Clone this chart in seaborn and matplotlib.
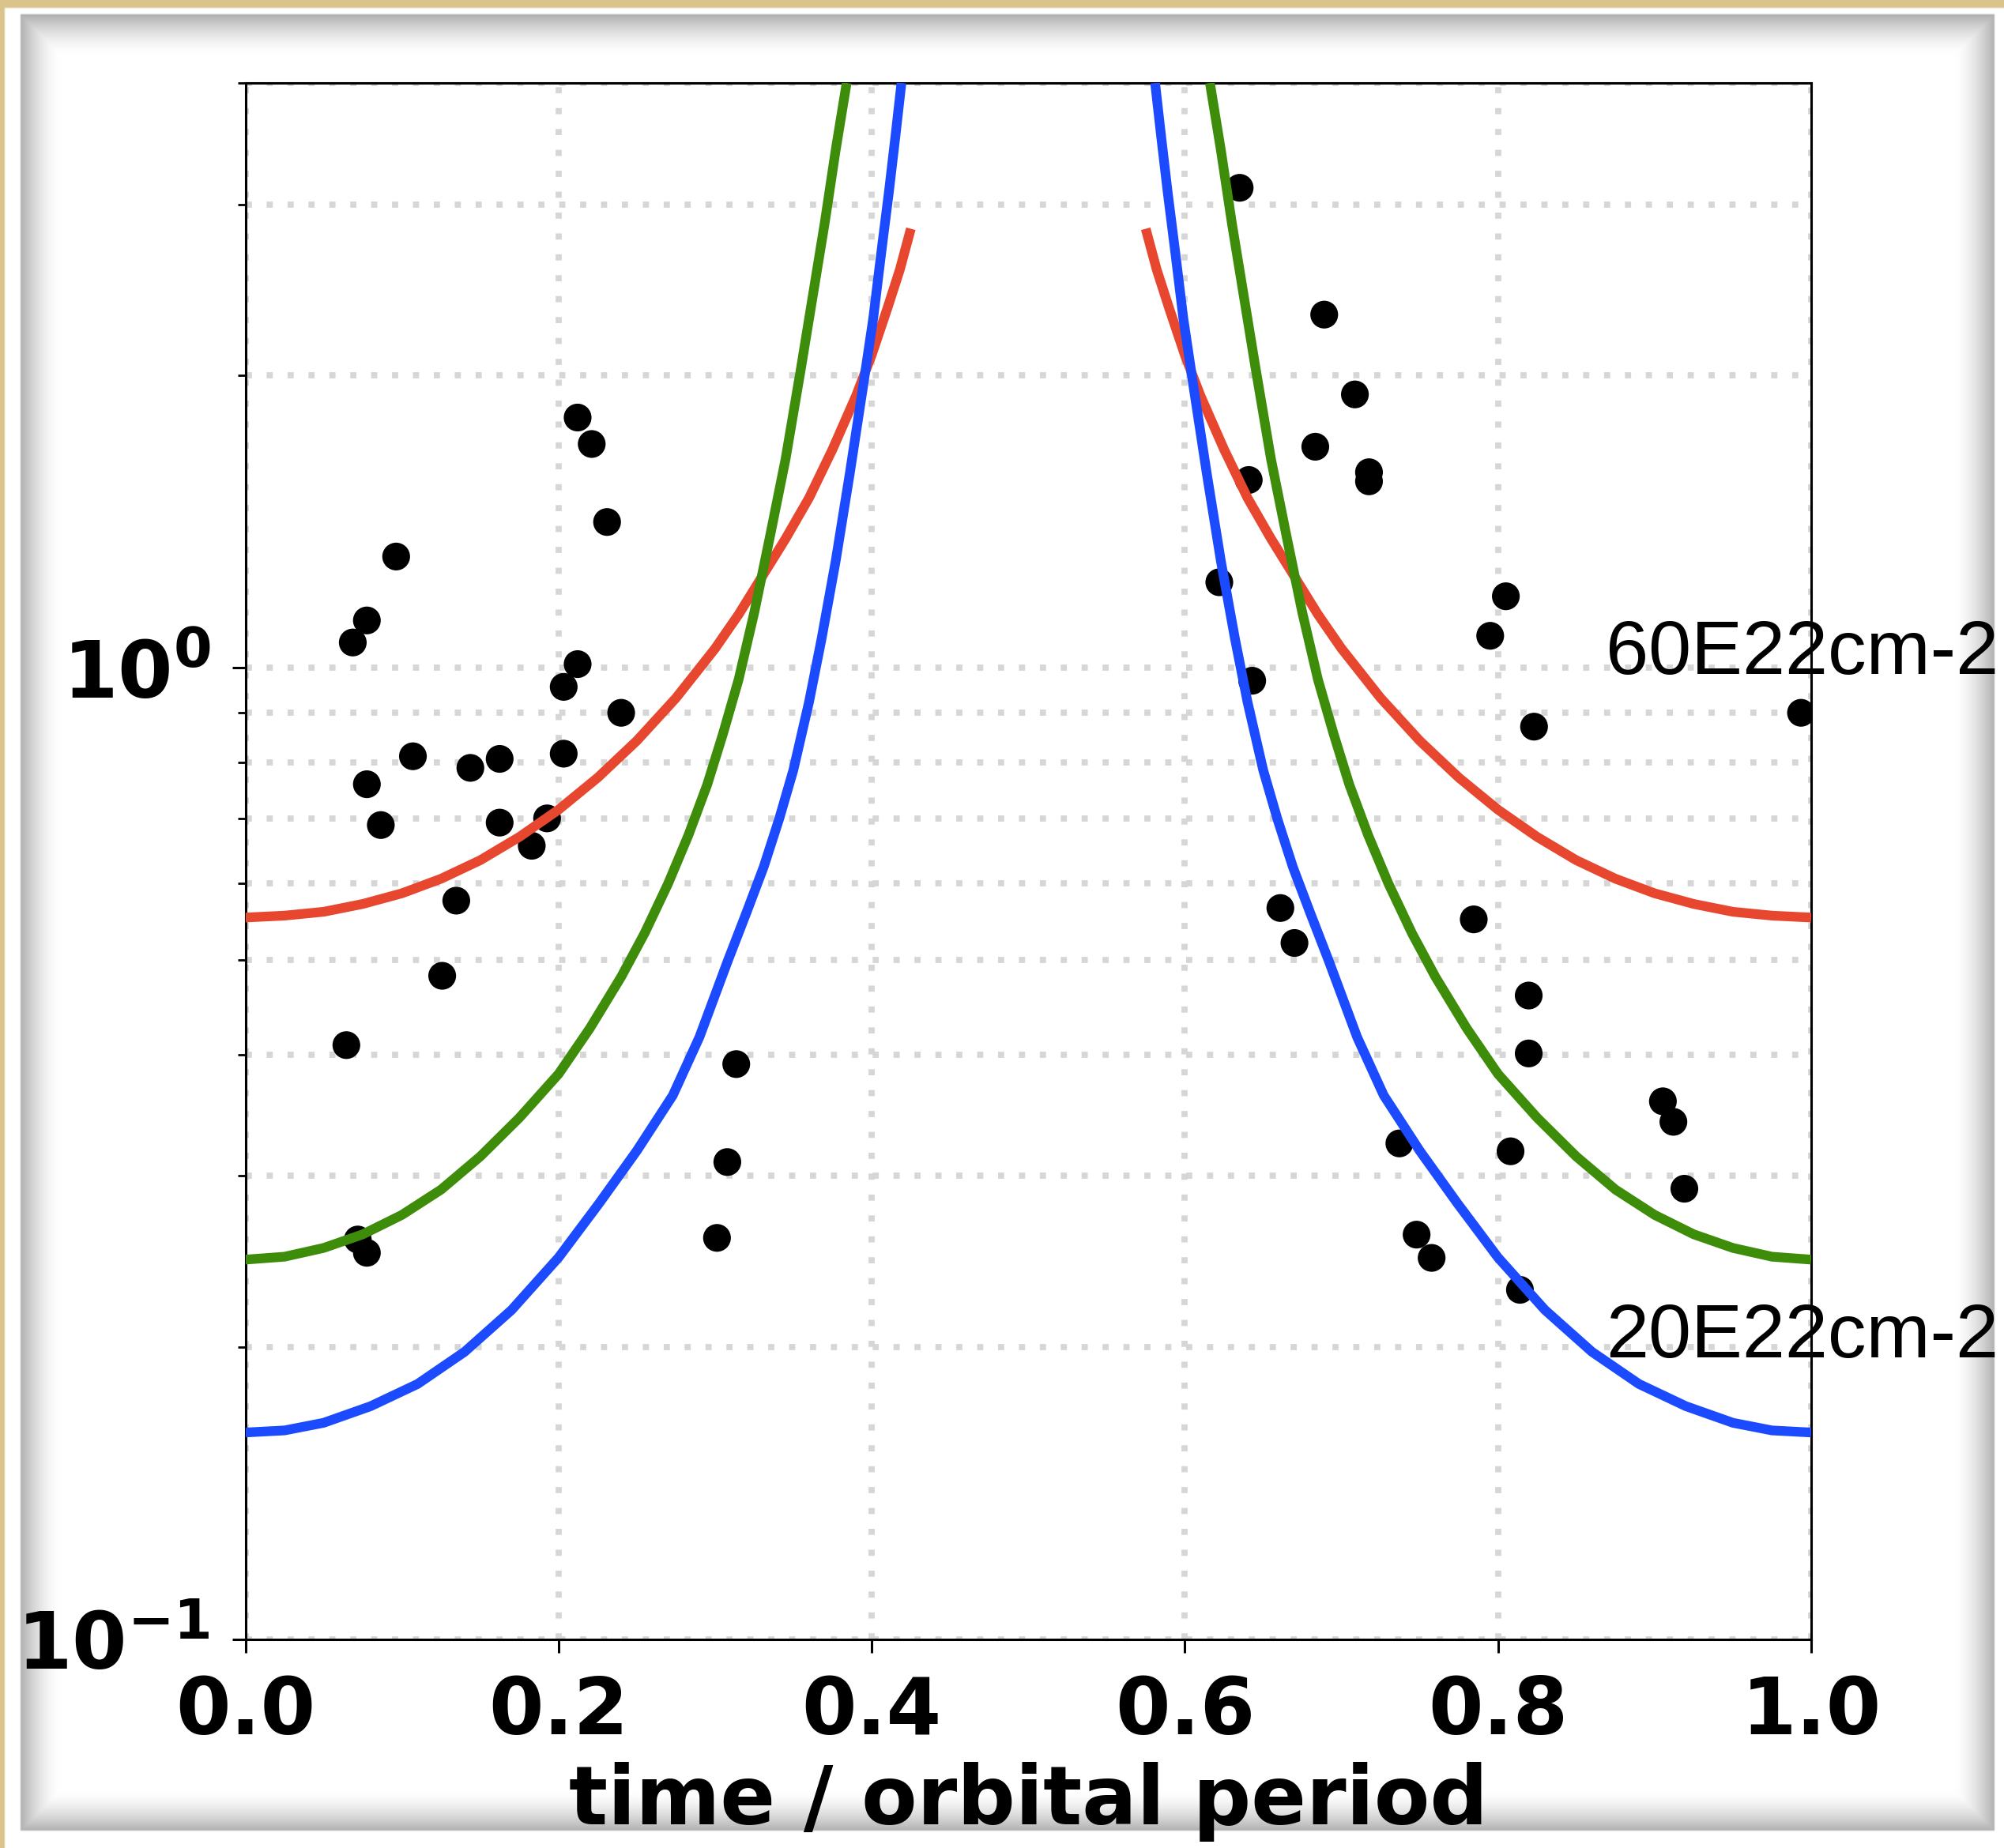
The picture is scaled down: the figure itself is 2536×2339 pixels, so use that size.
import matplotlib
matplotlib.use("Agg")
import matplotlib.pyplot as plt
import matplotlib.ticker as mticker
import numpy as np
import seaborn as sns

# Model curves; right halves mirror the left halves
red_left_x = [0.0, 0.025, 0.05, 0.075, 0.1, 0.125, 0.15, 0.175, 0.2, 0.225, 0.25, 0.275,
              0.3, 0.315, 0.33, 0.345, 0.36, 0.375, 0.39, 0.4, 0.41, 0.418, 0.425]
red_left_y = [0.5534, 0.5559, 0.5610, 0.5715, 0.5861, 0.6067, 0.6339, 0.6699, 0.7145,
              0.7709, 0.8414, 0.9311, 1.0471, 1.1350, 1.2417, 1.3583, 1.4962, 1.6788,
              1.9055, 2.0989, 2.3442, 2.5704, 2.8314]
red_right_x = [0.575, 0.582, 0.59, 0.6, 0.61, 0.625, 0.64, 0.655, 0.67, 0.685, 0.7, 0.725,
               0.75, 0.775, 0.8, 0.825, 0.85, 0.875, 0.9, 0.925, 0.95, 0.975, 1.0]
red_right_y = red_left_y[::-1]

green_left_x = [0.0, 0.025, 0.05, 0.075, 0.1, 0.125, 0.15, 0.175, 0.2, 0.22, 0.24, 0.255,
                0.27, 0.283, 0.295, 0.305, 0.315, 0.325, 0.335, 0.345, 0.355, 0.363, 0.37,
                0.377, 0.384]
green_left_y = [0.2460, 0.2477, 0.2529, 0.2612, 0.2735, 0.2904, 0.3141, 0.3443, 0.3819,
                0.4256, 0.4808, 0.5333, 0.5998, 0.6730, 0.7586, 0.8551, 0.9727, 1.1402,
                1.3646, 1.6406, 2.0417, 2.4491, 2.8708, 3.4119, 4.0]
green_right_x = [0.616, 0.623, 0.63, 0.637, 0.645, 0.655, 0.665, 0.675, 0.685, 0.695, 0.705,
                 0.717, 0.73, 0.745, 0.76, 0.78, 0.8, 0.825, 0.85, 0.875, 0.9, 0.925, 0.95,
                 0.975, 1.0]
green_right_y = green_left_y[::-1]

blue_left_x = [0.0, 0.025, 0.05, 0.08, 0.11, 0.14, 0.17, 0.2, 0.226, 0.25, 0.273, 0.29,
               0.308, 0.32, 0.331, 0.341, 0.35, 0.36, 0.368, 0.377, 0.386, 0.395, 0.401,
               0.406, 0.411, 0.415, 0.419]
blue_left_y = [0.1633, 0.1641, 0.1671, 0.1738, 0.1832, 0.1977, 0.2183, 0.2472, 0.2812,
               0.3184, 0.3631, 0.4169, 0.4989, 0.5598, 0.6237, 0.6998, 0.7852, 0.9226,
               1.0715, 1.2882, 1.5849, 1.9724, 2.2909, 2.6669, 3.0903, 3.5075, 4.0]
blue_right_x = [0.581, 0.585, 0.589, 0.594, 0.599, 0.605, 0.614, 0.623, 0.632, 0.64, 0.65,
                0.659, 0.669, 0.68, 0.692, 0.71, 0.727, 0.75, 0.774, 0.8, 0.83, 0.86, 0.89,
                0.92, 0.95, 0.975, 1.0]
blue_right_y = blue_left_y[::-1]

# Observed points
obs_x = [0.0645, 0.0686, 0.0776, 0.0776, 0.0865, 0.0963, 0.107, 0.0718, 0.0776, 0.1257,
         0.1347, 0.1437, 0.1624, 0.1624, 0.1829, 0.1927, 0.2033, 0.2033, 0.2122, 0.2122,
         0.2212, 0.231, 0.24, 0.3012, 0.3078, 0.3135,
         0.635, 0.689, 0.7086, 0.6833, 0.7176, 0.7176, 0.6408, 0.622, 0.643, 0.805,
         0.795, 0.823, 0.9935, 0.661, 0.670, 0.7845, 0.8196, 0.8196, 0.737, 0.748,
         0.7576, 0.808, 0.814, 0.9053, 0.912, 0.919]
obs_y = [0.409, 1.062, 1.119, 0.759, 0.689, 1.302, 0.811, 0.258, 0.250, 0.482,
         0.576, 0.789, 0.806, 0.693, 0.656, 0.700, 0.816, 0.956, 1.009, 1.810,
         1.700, 1.413, 0.899, 0.259, 0.310, 0.391,
         3.12, 2.31, 1.912, 1.689, 1.59, 1.556, 1.561, 1.225, 0.970, 1.185,
         1.079, 0.870, 0.899, 0.566, 0.521, 0.551, 0.460, 0.401, 0.324, 0.261,
         0.247, 0.318, 0.229, 0.358, 0.341, 0.291]

labels = ["60E22cm-2", "20E22cm-2"]
label_x = [0.869, 0.869]
label_y = [0.985, 0.195]

x_ticks = [0.0, 0.2, 0.4, 0.6, 0.8, 1.0]
y_ticks = [0.1, 1.0]
y_ticklabels = [r"$\mathbf{10^{-1}}$", r"$\mathbf{10^{0}}$"]

RED, GREEN, BLUE = "#e8472f", "#3d8c0a", "#1c4bff"

sns.set_style("ticks")
plt.rcParams["font.family"] = ["DejaVu Sans"]
plt.rcParams["text.color"] = "black"
plt.rcParams["axes.labelcolor"] = "black"
plt.rcParams["xtick.color"] = "black"
plt.rcParams["ytick.color"] = "black"

W, H, DPI = 2536, 2339, 200
fig = plt.figure(figsize=(W / DPI, H / DPI), dpi=DPI)

# Decorative frame: tan strip, white paper with soft inner shadow
step = 2
yy, xx = np.mgrid[0:H:step, 0:W:step].astype(np.float32)
img = np.ones(yy.shape + (3,), dtype=np.float32)
px0, py0, px1, py1 = 25, 18, 2523, 2317
inside = (xx >= px0) & (xx <= px1) & (yy >= py0) & (yy <= py1)
d = np.minimum(np.minimum(xx - px0, px1 - xx), np.minimum(yy - py0, py1 - yy))
t = np.clip(1 - d / 50.0, 0, 1)
shade = 1 - 0.31 * t ** 1.6
img[inside] *= shade[inside][:, None]
tan = np.array([0.86, 0.77, 0.55], dtype=np.float32)
img[(yy < 9) | (xx < 6)] = tan
bg = fig.add_axes([0, 0, 1, 1], zorder=-10)
bg.imshow(img, extent=[0, W, H, 0], aspect="auto", interpolation="bilinear")
bg.axis("off")

ax = fig.add_axes([310.5 / W, 1 - 2075 / H, 1981.5 / W, (2075 - 105) / H])
ax.set_facecolor("white")

sns.scatterplot(x=obs_x, y=obs_y, color="black", s=160, edgecolor="none",
                ax=ax, zorder=2)

for xs, ys, c in [(red_left_x, red_left_y, RED), (red_right_x, red_right_y, RED),
                  (green_left_x, green_left_y, GREEN), (green_right_x, green_right_y, GREEN),
                  (blue_left_x, blue_left_y, BLUE), (blue_right_x, blue_right_y, BLUE)]:
    sns.lineplot(x=xs, y=ys, color=c, estimator=None, sort=False, ax=ax)

for line in ax.lines:
    line.set_linewidth(4.4)
    line.set_zorder(3)
    line.set_solid_joinstyle("round")
    line.set_solid_capstyle("butt")

ax.set_yscale("log")
ax.set_xlim(0, 1)
ax.set_ylim(0.1, 4.0)
ax.set_xticks(x_ticks)
ax.set_xticklabels([f"{v:.1f}" for v in x_ticks], fontsize=36, fontweight="bold",
                   color="black")
ax.set_yticks(y_ticks)
ax.set_yticklabels(y_ticklabels, fontsize=36, color="black")
ax.yaxis.set_minor_locator(mticker.LogLocator(base=10, subs=np.arange(2, 10)))
ax.yaxis.set_minor_formatter(mticker.NullFormatter())

ax.tick_params(axis="both", which="major", direction="out", length=6, width=1.1,
               color="black", labelcolor="black", pad=10)
ax.tick_params(axis="y", which="minor", direction="out", length=3.5, width=1.0,
               color="black")
for sp in ax.spines.values():
    sp.set_visible(True)
    sp.set_color("black")
    sp.set_linewidth(1.1)

grid_kw = dict(color="#d6d6d6", linestyle=(0, (1, 2.4)), linewidth=2.8)
ax.grid(True, which="both", axis="y", **grid_kw)
ax.grid(True, which="major", axis="x", **grid_kw)
ax.set_axisbelow(True)

ax.set_xlabel("time / orbital period", fontsize=37, fontweight="bold", labelpad=5,
              color="black")
ax.set_ylabel("")

for txt, x, y in zip(labels, label_x, label_y):
    ax.text(x, y, txt, fontsize=35, family=["Liberation Sans", "DejaVu Sans"],
            color="black", ha="left", va="baseline", zorder=5)

fig.savefig("out.png", dpi=DPI)
